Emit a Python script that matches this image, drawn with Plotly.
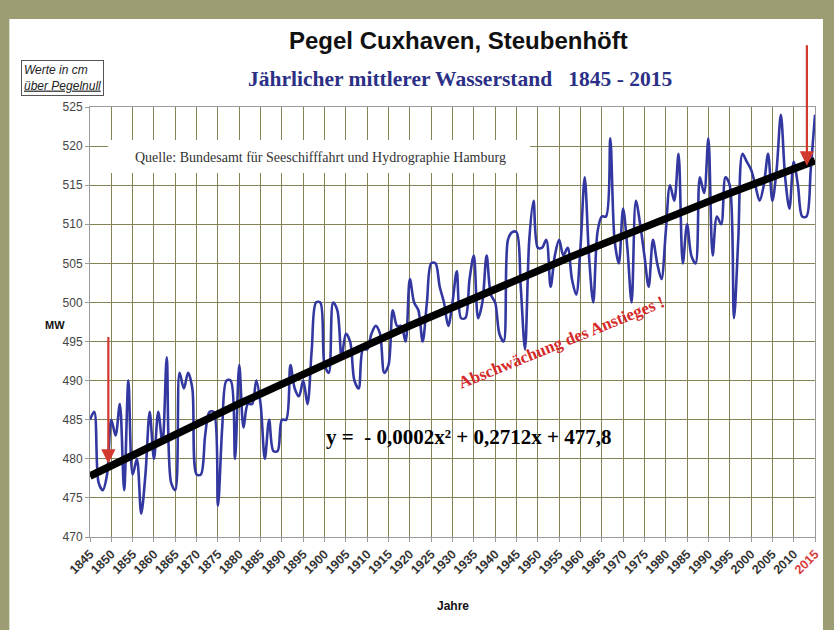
import plotly.graph_objects as go

# ---------------- data ----------------
years = list(range(1845, 2016))
water_level = [
    485, 486, 477, 476, 478, 485, 483, 487, 476, 490,   # 1845-1854
    478, 480, 473, 478, 486, 480, 486, 482, 493, 477,   # 1855-1864
    476, 491, 489, 491, 489, 478, 478, 483, 486, 486,   # 1865-1874
    474, 484, 490, 490, 480, 492, 484, 487, 487, 490,   # 1875-1884
    487, 480, 485, 481, 481, 485, 485, 492, 489, 488,   # 1885-1894
    490, 487, 494, 500, 500, 492, 491, 500, 499, 493,   # 1895-1904
    496, 495, 490, 489, 494, 494, 496, 497, 496, 491,   # 1905-1914
    492, 499, 497, 497, 495, 503, 500, 499, 495, 500,   # 1915-1924
    505, 505, 502, 500, 497, 500, 504, 498, 498, 503,   # 1925-1934
    506, 498, 500, 506, 501, 500, 496, 495, 508, 509,   # 1935-1944
    509, 502, 494, 508, 513, 507, 507, 508, 502, 506,   # 1945-1954
    508, 506, 507, 503, 501, 507, 516, 506, 500, 509,   # 1955-1964
    511, 511, 521, 508, 505, 512, 507, 500, 513, 510,   # 1965-1974
    506, 502, 508, 505, 503, 509, 515, 513, 519, 505,   # 1975-1984
    510, 506, 505, 516, 514, 521, 506, 511, 510, 516,   # 1985-1994
    515, 498, 508, 519, 518, 517, 515, 513, 515, 519,   # 1995-2004
    513, 517, 524, 516, 512, 518, 515, 511, 511, 517,   # 2005-2014
    524,                                                # 2015
]
# trend stated on the chart: y = -0,0002x^2 + 0,2712x + 477,8  (x = years since 1845)
trend_a, trend_b, trend_c = -0.0002, 0.2712, 477.8
trend = [trend_a * (y - 1845) ** 2 + trend_b * (y - 1845) + trend_c for y in years]

x_tick_vals = list(range(1845, 2016, 5))
x_tick_text = ["<b>%d</b>" % v for v in x_tick_vals[:-1]] + ['<b><span style="color:#d83a3a">2015</span></b>']
y_tick_vals = list(range(470, 526, 5))

# ---------------- figure ----------------
W, H = 834, 630
L, R, T, B = 90, 16, 107, 93
pw, ph = W - L - R, H - T - B

def px(x):
    return (x - L) / pw

def py(y):
    return (H - B - y) / ph

fig = go.Figure()
fig.add_trace(go.Scatter(
    x=years, y=water_level, mode="lines",
    line=dict(color="#3338a0", width=2.6, shape="spline", smoothing=0.9),
    hoverinfo="x+y", showlegend=False))
fig.add_trace(go.Scatter(
    x=years, y=trend, mode="lines",
    line=dict(color="#000000", width=7.5),
    hoverinfo="skip", showlegend=False))

grid = "#858256"
fig.update_xaxes(range=[1845, 2015], tickvals=x_tick_vals, ticktext=x_tick_text,
                 tickangle=-45, tickfont=dict(family="Liberation Sans", size=12.5, color="#333"),
                 showgrid=True, gridcolor=grid, gridwidth=1,
                 showline=True, linecolor="#9a9a9a", mirror=True,
                 ticks="outside", ticklen=4, tickcolor="#9a9a9a", zeroline=False)
fig.update_yaxes(range=[470, 525], tickvals=y_tick_vals,
                 tickfont=dict(family="Liberation Sans", size=12, color="#444"),
                 showgrid=True, gridcolor=grid, gridwidth=1,
                 showline=True, linecolor="#9a9a9a", mirror=True,
                 ticks="outside", ticklen=4, tickcolor="#9a9a9a", zeroline=False)

shapes = [
    # white panel inside olive frame
    dict(type="rect", xref="paper", yref="paper", layer="below",
         x0=px(9), x1=px(826), y0=py(630), y1=py(19),
         fillcolor="white", line=dict(width=0)),
    # source box
    dict(type="rect", xref="paper", yref="paper",
         x0=px(108), x1=px(532), y0=py(173), y1=py(140),
         fillcolor="white", line=dict(width=0)),
]

def note(x, y, text, **kw):
    d = dict(xref="paper", yref="paper", x=px(x), y=py(y), text=text, showarrow=False,
             xanchor="center", yanchor="middle")
    d.update(kw)
    return d

annotations = [
    note(460, 41, "<b>Pegel Cuxhaven, Steubenhöft</b>",
         font=dict(family="Liberation Sans", size=24, color="#111")),
    note(462, 79, "<b>Jährlicher mittlerer Wasserstand   1845 - 2015</b>",
         font=dict(family="Liberation Serif", size=21.5, color="#2b2f86")),
    note(62, 78, "<i>Werte in cm<br><u>über Pegelnull</u></i>", align="left",
         font=dict(family="Liberation Sans", size=12, color="#222"),
         bordercolor="#555", borderwidth=1, borderpad=2, bgcolor="white"),
    note(321, 157, "Quelle: Bundesamt für Seeschifffahrt und Hydrographie Hamburg",
         font=dict(family="Liberation Serif", size=14, color="#333")),
    note(55, 325, "<b>MW</b>",
         font=dict(family="Liberation Sans", size=11, color="#111")),
    note(455, 606, "<b>Jahre</b>",
         font=dict(family="Liberation Sans", size=12, color="#111")),
    note(470, 437, "<b>y =  - 0,0002x² + 0,2712x + 477,8</b>",
         font=dict(family="Liberation Serif", size=21, color="#000")),
    note(563, 342, "<b>Abschwächung des Anstieges !</b>", textangle=-22,
         font=dict(family="Liberation Serif", size=17, color="#d42a2a")),
    # red arrows
    dict(x=1849.3, y=479.4, xref="x", yref="y", text="", showarrow=True,
         ax=0, ay=-128, arrowcolor="#d23a2e", arrowwidth=2.2, arrowhead=2, arrowsize=1.3),
    dict(x=2013.1, y=517.5, xref="x", yref="y", text="", showarrow=True,
         ax=0, ay=-122, arrowcolor="#d23a2e", arrowwidth=2.2, arrowhead=2, arrowsize=1.3),
]

fig.update_layout(
    width=W, height=H,
    margin=dict(l=L, r=R, t=T, b=B),
    paper_bgcolor="#9c9d72",
    plot_bgcolor="#f8f5c0",
    shapes=shapes, annotations=annotations,
    showlegend=False,
)

fig.write_html("out.html", config={"displayModeBar": False},
               post_script="document.body.style.margin='0px';document.body.style.background='#9c9d72';")
